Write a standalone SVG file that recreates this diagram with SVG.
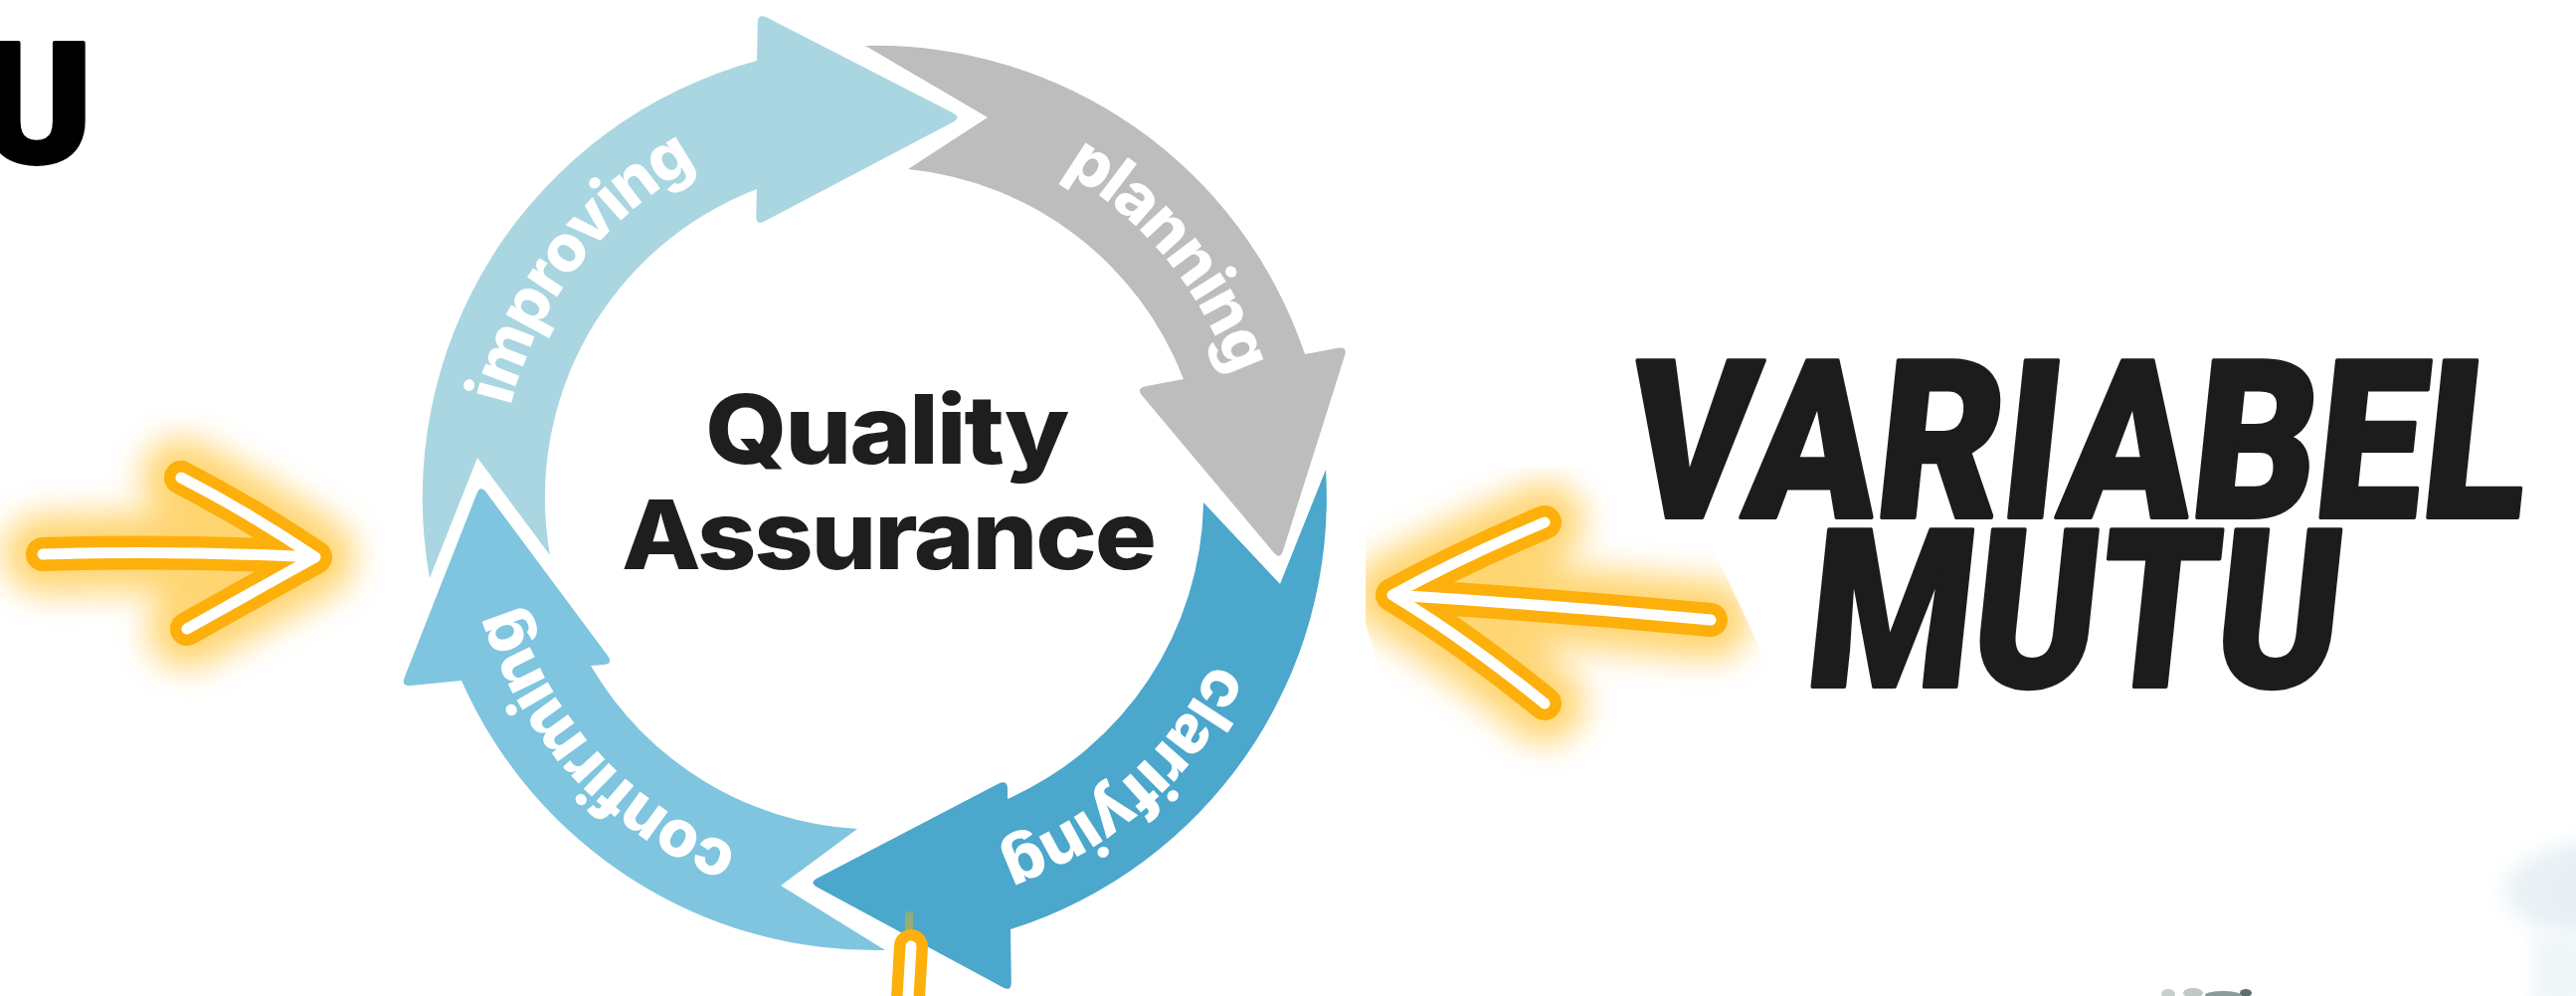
<svg xmlns="http://www.w3.org/2000/svg" width="2590" height="1001" viewBox="0 0 2590 1001">
<defs>
<style>
.lbl{font-family:"Inter","Noto Sans",sans-serif;font-weight:800;font-size:66px;letter-spacing:-2px;fill:#ffffff;}
.qa{font-family:"Inter","Noto Sans",sans-serif;font-weight:800;font-size:96px;letter-spacing:-2px;fill:#1e1e1e;text-anchor:middle;}
.big{font-family:"Roboto","Liberation Sans",sans-serif;font-weight:900;font-size:222px;fill:#1c1c1c;stroke:#1c1c1c;stroke-width:4;stroke-linejoin:round;}
.neon-g{fill:none;stroke:#FFB400;stroke-width:80;stroke-linecap:round;stroke-linejoin:round;opacity:0.55;}
.neon-o{fill:none;stroke:#FDB00C;stroke-width:34;stroke-linecap:round;stroke-linejoin:round;}
.neon-w{fill:none;stroke:#ffffff;stroke-width:11;stroke-linecap:round;stroke-linejoin:round;}
</style>
<filter id="blur" x="-50%" y="-50%" width="200%" height="200%"><feGaussianBlur stdDeviation="16"/></filter>
<filter id="soft" x="-50%" y="-50%" width="200%" height="200%"><feGaussianBlur stdDeviation="8"/></filter>
<clipPath id="rclip"><polygon points="1373,470 1684,470 1830,780 1420,780 1373,627"/></clipPath>
<radialGradient id="blobg" cx="0.6" cy="0.55" r="0.6">
<stop offset="0" stop-color="#e2edf2"/>
<stop offset="0.75" stop-color="#e9f1f5"/>
<stop offset="1" stop-color="#ffffff" stop-opacity="0"/>
</radialGradient>
<path id="ring" d="M 1258,500 A 378 378 0 1 1 502,500 A 378 378 0 1 1 1258,500"/>
</defs>
<rect width="2590" height="1001" fill="#ffffff"/>

<g id="bg-decor">
<ellipse cx="2615" cy="890" rx="120" ry="55" fill="url(#blobg)" filter="url(#soft)"/>
<rect x="2545" y="935" width="60" height="80" fill="#f1f7f9" filter="url(#soft)"/>
<ellipse cx="2180" cy="999" rx="7" ry="5" fill="#c5d0ce"/>
<ellipse cx="2205" cy="998" rx="10" ry="5" fill="#bfcac8"/>
<ellipse cx="2235" cy="1000" rx="18" ry="4" fill="#8a9c99"/>
<ellipse cx="2258" cy="998" rx="6" ry="4" fill="#5d716f"/>
</g>

<g id="node-improving">
<path fill="#A9D6E0" d="M 432,581 A 455 455 0 0 1 761,61 L 761.8,23 Q 762,13 770.9,17.6 L 958.1,113.4 Q 967,118 958.1,122.7 L 768.9,222.3 Q 760,227 760.3,217 L 761,190 A 332 332 0 0 0 553,558 L 480,460 Z"/>
<text class="lbl"><textPath href="#ring" startOffset="60.5%" text-anchor="middle">improving</textPath></text>
</g>
<g id="node-planning">
<path fill="#BDBDBD" d="M 870,46 A 455 455 0 0 1 1312,356 L 1345.2,349.8 Q 1355,348 1352,357.5 L 1290,553.5 Q 1287,563 1280.6,555.3 L 1148.4,397.7 Q 1142,390 1151.8,388.2 L 1190,381 A 332 332 0 0 0 913,170 L 993,118 Z"/>
<text class="lbl"><textPath href="#ring" startOffset="89%" text-anchor="middle">planning</textPath></text>
</g>
<g id="node-clarifying">
<path fill="#4BA7CB" d="M 1333,472 A 455 455 0 0 1 1016,934 L 1016.8,987 Q 1017,997 1008.2,992.3 L 821.8,891.7 Q 813,887 821.9,882.4 L 1004.1,787.6 Q 1013,783 1013,793 L 1013,803 A 332 332 0 0 0 1210,505 L 1287,587 Z"/>
<text class="lbl"><textPath href="#ring" startOffset="13.4%" text-anchor="middle">clarifying</textPath></text>
</g>
<g id="node-confirming">
<path fill="#7FC5DF" d="M 890,955 A 455 455 0 0 1 464,684 L 412.9,689 Q 403,690 406.7,680.7 L 479.3,496.3 Q 483,487 489,495 L 611,659 Q 617,667 607,667.9 L 594,669 A 332 332 0 0 0 862,833 L 785,890 Z"/>
<text class="lbl"><textPath href="#ring" startOffset="38.1%" text-anchor="middle">confirming</textPath></text>
</g>

<g id="node-center">
<text class="qa" x="891" y="466" textLength="364" lengthAdjust="spacingAndGlyphs">Quality</text>
<text class="qa" x="893" y="572" textLength="536" lengthAdjust="spacingAndGlyphs">Assurance</text>
</g>

<g id="node-title">
<g transform="translate(1630,520) skewX(-6)"><text class="big" x="0" y="0" textLength="905" lengthAdjust="spacingAndGlyphs">VARIABEL</text></g>
<g transform="translate(1812,690) skewX(-6)"><text class="big" x="0" y="0" textLength="535" lengthAdjust="spacingAndGlyphs">MUTU</text></g>
<text class="big" x="-19" y="163" style="font-size:168px;fill:#000;stroke:#000">U</text>
</g>

<g id="connectors">
<g id="arrow-left">
<path class="neon-g" filter="url(#blur)" d="M 43,557 Q 180,553 317,560 M 182,480 Q 250,515 317,560 Q 250,597 188,632"/>
<path class="neon-o" d="M 43,557 Q 180,553 317,560 M 182,480 Q 250,515 317,560 Q 250,597 188,632"/>
<path class="neon-w" d="M 43,557 Q 180,553 317,560 M 182,480 Q 250,515 317,560 Q 250,597 188,632"/>
</g>
<g id="arrow-right">
<g clip-path="url(#rclip)"><path class="neon-g" filter="url(#blur)" d="M 1720,623 Q 1560,608 1400,598 M 1553,525 Q 1470,560 1400,598 Q 1470,640 1553,707"/></g>
<path class="neon-o" d="M 1720,623 Q 1560,608 1400,598 M 1553,525 Q 1470,560 1400,598 Q 1470,640 1553,707"/>
<path class="neon-w" d="M 1720,623 Q 1560,608 1400,598 M 1553,525 Q 1470,560 1400,598 Q 1470,640 1553,707"/>
</g>
<g id="arrow-bottom">
<path class="neon-g" filter="url(#blur)" d="M 916,951 L 912,1020"/>
<path class="neon-o" d="M 916,951 L 912,1020"/>
<path class="neon-w" d="M 916,951 L 912,1020"/>
</g>
</g>
</svg>
